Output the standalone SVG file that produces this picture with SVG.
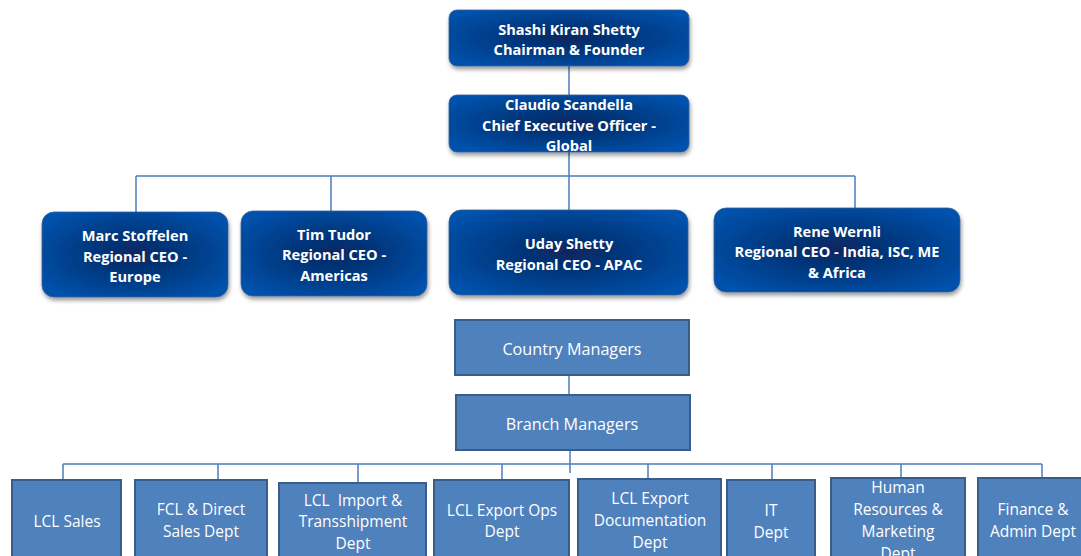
<svg xmlns="http://www.w3.org/2000/svg" width="1081" height="556" viewBox="0 0 1081 556">
<defs>
<radialGradient id="g" cx="0.5" cy="0.5" r="0.62">
<stop offset="0" stop-color="#08265f"/>
<stop offset="1" stop-color="#0052ad"/>
</radialGradient>
<filter id="sh" x="-10%" y="-10%" width="125%" height="135%">
<feGaussianBlur in="SourceAlpha" stdDeviation="2"/>
<feOffset dx="1" dy="3" result="b"/>
<feComponentTransfer><feFuncA type="linear" slope="0.4"/></feComponentTransfer>
<feMerge><feMergeNode/><feMergeNode in="SourceGraphic"/></feMerge>
</filter>
</defs>
<style>
.exec{fill:url(#g);stroke:#3a5f9a;stroke-width:0.8;filter:url(#sh)}
.et{fill:#fff;font-family:"Open Sans","Liberation Sans",sans-serif;font-weight:bold;font-size:14.6px;text-anchor:middle}
.mgr{fill:#4f81bd;stroke:#385d8a;stroke-width:2}
.mt{fill:#fff;font-family:"Open Sans","Liberation Sans",sans-serif;font-size:15.5px;text-anchor:middle}
.big{font-size:16.2px}
.c{stroke:#4a7ebb;stroke-width:1.5;fill:none}
</style>
<g id="connectors">
<path class="c" d="M569 66V95M569 152V176M136 176H855M136 176V213M331 176V211M569 176V210M855 176V208"/>
<path class="c" d="M569 375V395M570 450V473M63 464H1042M63 464V480M218 464V480M358 464V483M502 464V480M648 464V479M772 464V480M901 464V478M1042 464V478"/>
</g>
<g id="n-shashi"><rect class="exec" x="449" y="10" width="240" height="56" rx="8"/>
<text class="et" x="569" y="35">Shashi Kiran Shetty</text><text class="et" x="569" y="55">Chairman &amp; Founder</text></g>
<g id="n-claudio"><rect class="exec" x="449" y="95" width="240" height="57" rx="8"/>
<text class="et" x="569" y="110">Claudio Scandella</text><text class="et" x="569" y="131">Chief Executive Officer -</text><text class="et" x="569" y="151">Global</text></g>
<g id="n-marc"><rect class="exec" x="42" y="212" width="186" height="85" rx="12"/>
<text class="et" x="135" y="241">Marc Stoffelen</text><text class="et" x="135" y="262">Regional CEO -</text><text class="et" x="135" y="282">Europe</text></g>
<g id="n-tim"><rect class="exec" x="241" y="211" width="186" height="85" rx="12"/>
<text class="et" x="334" y="240">Tim Tudor</text><text class="et" x="334" y="260">Regional CEO -</text><text class="et" x="334" y="281">Americas</text></g>
<g id="n-uday"><rect class="exec" x="449" y="210" width="239" height="85" rx="12"/>
<text class="et" x="569" y="249">Uday Shetty</text><text class="et" x="569" y="270">Regional CEO - APAC</text></g>
<g id="n-rene"><rect class="exec" x="714" y="208" width="246" height="84" rx="12"/>
<text class="et" x="837" y="237">Rene Wernli</text><text class="et" x="837" y="257">Regional CEO - India, ISC, ME</text><text class="et" x="837" y="278">&amp; Africa</text></g>
<g id="n-country"><rect class="mgr" x="455" y="320" width="234" height="55"/>
<text class="mt big" x="572" y="355">Country Managers</text></g>
<g id="n-branch"><rect class="mgr" x="456" y="395" width="234" height="55"/>
<text class="mt big" x="572" y="430">Branch Managers</text></g>
<g id="n-lclsales"><rect class="mgr" x="12" y="480" width="109" height="90"/>
<text class="mt" x="67" y="527">LCL Sales</text></g>
<g id="n-fcl"><rect class="mgr" x="135" y="480" width="132" height="90"/>
<text class="mt" x="201" y="515">FCL &amp; Direct</text><text class="mt" x="201" y="537">Sales Dept</text></g>
<g id="n-import"><rect class="mgr" x="279" y="483" width="147" height="90"/>
<text class="mt" x="353" y="506" xml:space="preserve">LCL  Import &amp;</text><text class="mt" x="353" y="527">Transshipment</text><text class="mt" x="353" y="549">Dept</text></g>
<g id="n-exportops"><rect class="mgr" x="434" y="480" width="135" height="90"/>
<text class="mt" x="502" y="516">LCL Export Ops</text><text class="mt" x="502" y="537">Dept</text></g>
<g id="n-exportdoc"><rect class="mgr" x="578" y="479" width="143" height="90"/>
<text class="mt" x="650" y="504">LCL Export</text><text class="mt" x="650" y="526">Documentation</text><text class="mt" x="650" y="548">Dept</text></g>
<g id="n-it"><rect class="mgr" x="727" y="480" width="88" height="90"/>
<text class="mt" x="771" y="516">IT</text><text class="mt" x="771" y="538">Dept</text></g>
<g id="n-hr"><rect class="mgr" x="831" y="478" width="134" height="90"/>
<text class="mt" x="898" y="493">Human</text><text class="mt" x="898" y="515">Resources &amp;</text><text class="mt" x="898" y="537">Marketing</text><text class="mt" x="898" y="559">Dept</text></g>
<g id="n-finance"><rect class="mgr" x="978" y="478" width="120" height="90"/>
<text class="mt" x="1033" y="515">Finance &amp;</text><text class="mt" x="1033" y="537">Admin Dept</text></g>
</svg>
